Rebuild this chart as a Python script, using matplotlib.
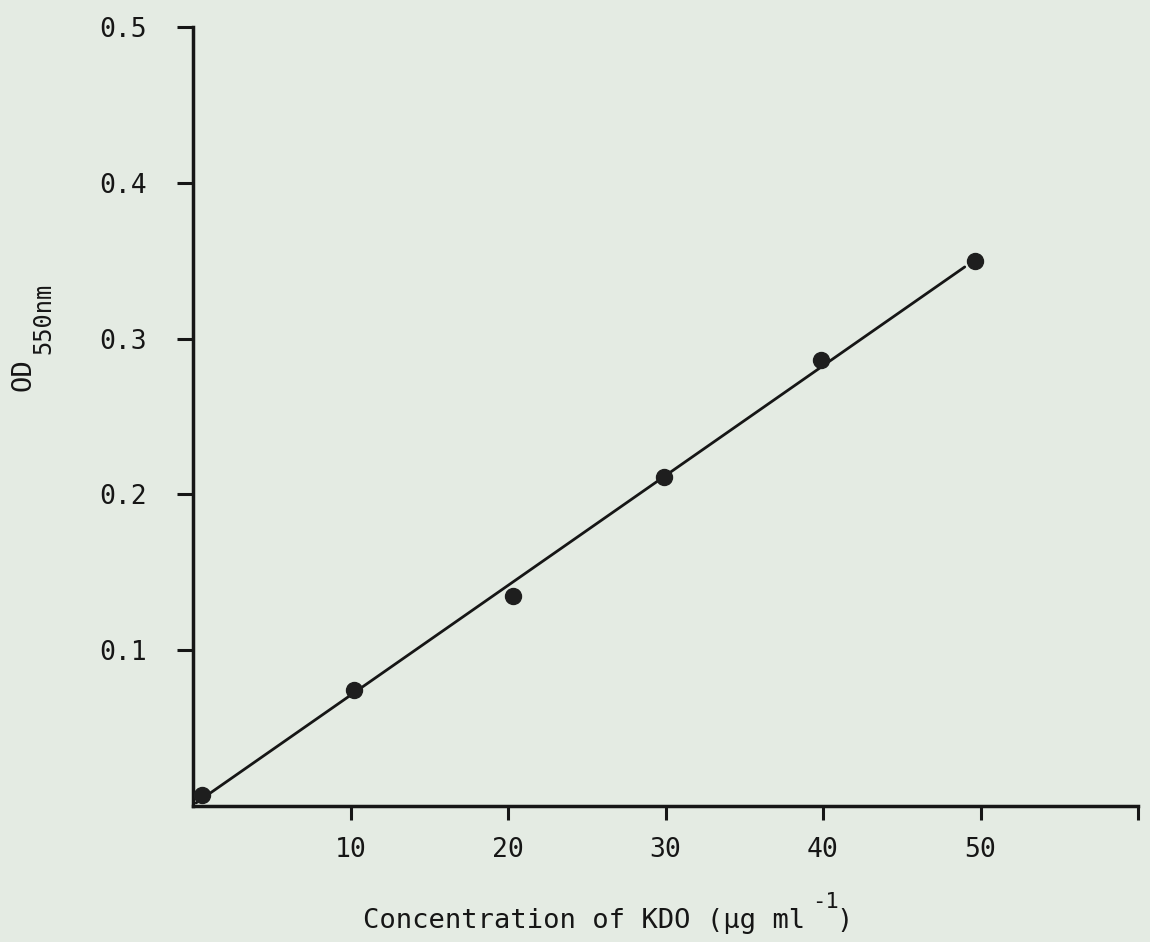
import matplotlib
matplotlib.use("Agg")
import matplotlib.pyplot as plt

# Data
conc = [0.6, 10.2, 20.3, 29.9, 39.9, 49.65]
od = [0.007, 0.0745, 0.135, 0.211, 0.286, 0.350]
fit_x = [0.2, 49.0]
fit_y = [0.002, 0.346]

xticks = [10, 20, 30, 40, 50, 60]
xticklabels = ["10", "20", "30", "40", "50", ""]
yticks = [0.1, 0.2, 0.3, 0.4, 0.5]
yticklabels = ["0.1", "0.2", "0.3", "0.4", "0.5"]

bg = "#e4ebe3"
ink = "#161616"

plt.rcParams["font.family"] = ["DejaVu Sans Mono"]

W, H = 1150, 942
fig = plt.figure(figsize=(W / 100, H / 100), dpi=100, facecolor=bg)
ax = fig.add_axes([193 / W, 1 - 806 / H, (1138 - 193) / W, (806 - 27) / H])
ax.set_facecolor(bg)

ax.plot(fit_x, fit_y, color=ink, lw=2.0, solid_capstyle="round", zorder=2)
ax.plot(conc, od, "o", color="#1e1e1e", ms=11.5, zorder=3, clip_on=False)

ax.set_xlim(0, 60)
ax.set_ylim(0, 0.5)
ax.set_xticks(xticks)
ax.set_xticklabels(xticklabels)
ax.set_yticks(yticks)
ax.set_yticklabels(yticklabels)

for s in ["top", "right"]:
    ax.spines[s].set_visible(False)
for s in ["left", "bottom"]:
    ax.spines[s].set_linewidth(2.5)
    ax.spines[s].set_color(ink)

ax.tick_params(axis="both", direction="out", colors=ink, width=2.2, labelsize=19)
ax.tick_params(axis="x", length=10, pad=12)
ax.tick_params(axis="y", length=11.5, pad=22)

# x-axis title (main part, superscript, closing parenthesis)
fig.text(363 / W, 1 - 928 / H, "Concentration of KDO (μg ml",
         ha="left", va="baseline", fontsize=19.5, color=ink)
fig.text(812 / W, 1 - 908 / H, "-1",
         ha="left", va="baseline", fontsize=16, color=ink)
fig.text(836 / W, 1 - 928 / H, ")",
         ha="left", va="baseline", fontsize=19.5, color=ink)

# y-axis title: OD with subscript 550nm
fig.text(23 / W, 1 - 375 / H, "OD", rotation=90,
         ha="center", va="center", fontsize=19.5, color=ink)
fig.text(43 / W, 1 - 318 / H, "550nm", rotation=90,
         ha="center", va="center", fontsize=17, color=ink)

fig.savefig("out.png", dpi=100, facecolor=bg)
